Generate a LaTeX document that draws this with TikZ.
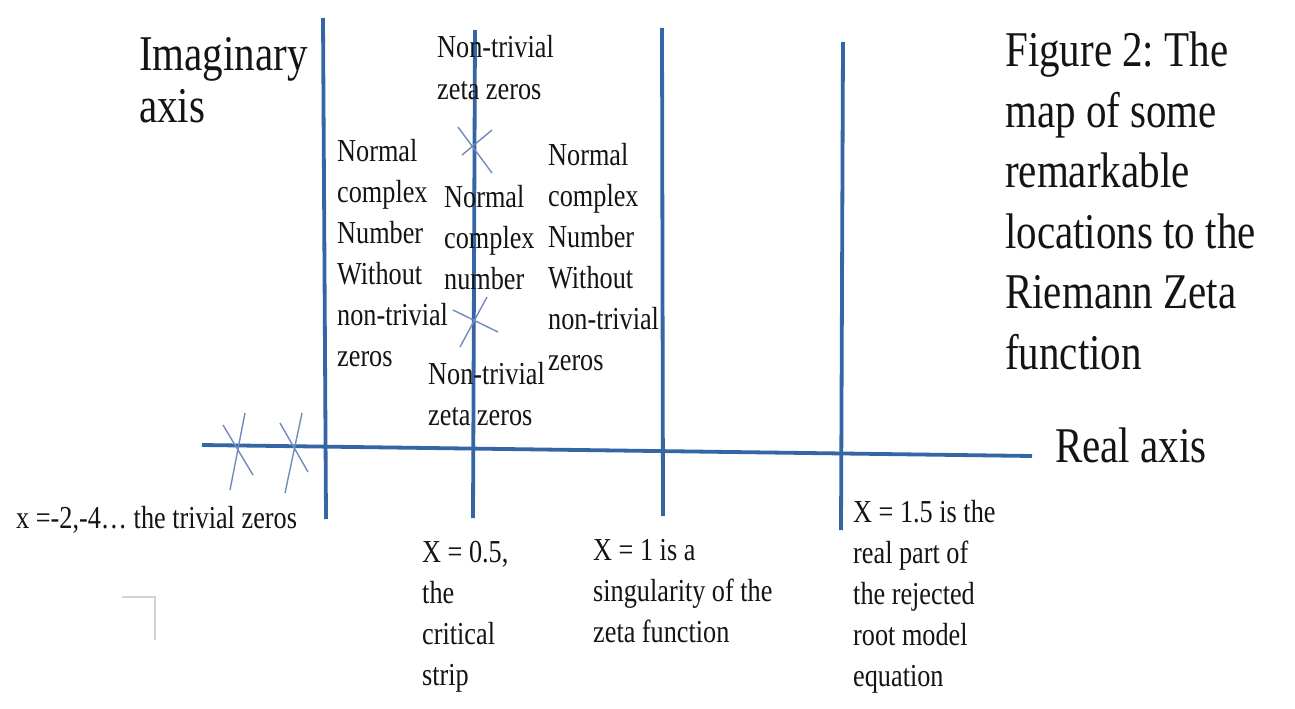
\documentclass[tikz,border=0pt]{standalone}
\usepackage{fontspec}
\setmainfont{Liberation Serif}[FakeStretch=0.82]
\frenchspacing
\definecolor{axisblue}{RGB}{52,101,164}
\definecolor{crossblue}{RGB}{112,140,188}
\definecolor{ink}{RGB}{20,20,20}
\definecolor{faint}{RGB}{210,210,210}
\tikzset{
  axisline/.style={draw=axisblue,line width=3.8pt},
  crossline/.style={draw=crossblue,line width=1.4pt},
  lbl/.style={anchor=base west,inner sep=0pt,align=left,text=ink,
              font=\fontsize{32}{41}\selectfont},
  biglbl/.style={lbl,font=\fontsize{50}{60.5}\selectfont},
}
\begin{document}
\begin{tikzpicture}[x=1pt,y=-1pt]
    \fill[white] (0,0) rectangle (1295,709);
    \useasboundingbox (0,0) rectangle (1295,709);
    % axis ends
    \coordinate (re-l) at (202,445);
    \coordinate (re-r) at (1032,456);
    \coordinate (im-t) at (323,18);
    \coordinate (im-b) at (326,519);
    \coordinate (half-t) at (475,30);
    \coordinate (half-b) at (473,518);
    \coordinate (one-t) at (662,28);
    \coordinate (one-b) at (663,516);
    \coordinate (onehalf-t) at (843,42);
    \coordinate (onehalf-b) at (841,530);
    \draw[axisline] (im-t) -- (im-b);
    \draw[axisline] (half-t) -- (half-b);
    \draw[axisline] (one-t) -- (one-b);
    \draw[axisline] (onehalf-t) -- (onehalf-b);
    \draw[axisline] (re-l) -- (re-r);
    % zeros
    \foreach \ax/\ay/\bx/\by/\cx/\cy/\dx/\dy in {
        223/425/253/475/245/413/230/490,
        280/423/308/472/302/413/285/493,
        458/127/492/173/492/130/462/155,
        453/310/498/332/487/297/460/347}
      \draw[crossline] (\ax,\ay) -- (\bx,\by) (\cx,\cy) -- (\dx,\dy);
    % corner mark
    \draw[faint,line width=1.6pt] (122,597) -- (155,597) -- (155,640);
    % labels (anchored at the baseline of their last line)
    \node[biglbl,font=\fontsize{50}{52}\selectfont] (imag) at (139,122) {Imaginary\\axis};
    \node[biglbl] (title) at (1005,369) {Figure 2: The\\map of some\\remarkable\\locations to the\\Riemann Zeta\\function};
    \node[biglbl] (real) at (1055,462) {Real axis};
    \node[lbl] (nt-top) at (437,99) {Non-trivial\\zeta zeros};
    \node[lbl] (ncl) at (337,366) {Normal\\complex\\Number\\Without\\non-trivial\\zeros};
    \node[lbl] (ncm) at (444,289) {Normal\\complex\\number};
    \node[lbl] (ncr) at (548,370) {Normal\\complex\\Number\\Without\\non-trivial\\zeros};
    \node[lbl] (nt-bot) at (428,425) {Non-trivial\\zeta zeros};
    \node[lbl] (trivial) at (16,528) {x =-2,-4… the trivial zeros};
    \node[lbl] (xhalf) at (422,685) {X = 0.5,\\the\\critical\\strip};
    \node[lbl] (xone) at (593,642) {X = 1 is a\\singularity of the\\zeta function};
    \node[lbl] (xonehalf) at (853,686) {X = 1.5 is the\\real part of\\the rejected\\root model\\equation};
\end{tikzpicture}
\end{document}
